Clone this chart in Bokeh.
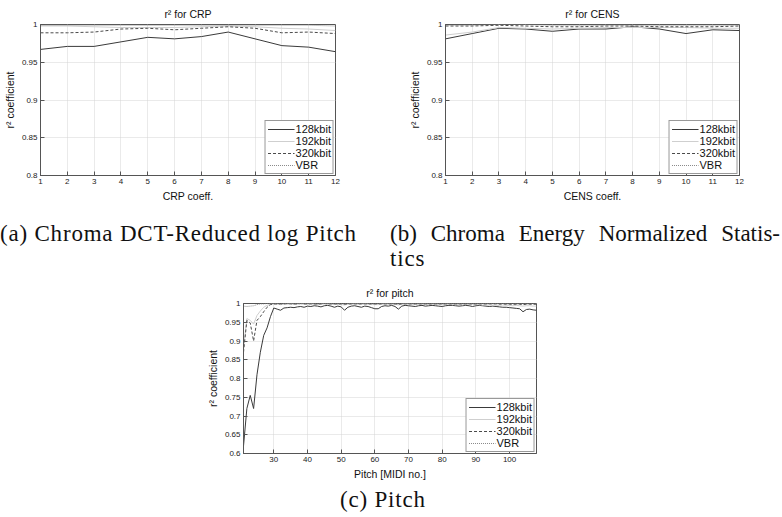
from bokeh.plotting import figure
from bokeh.layouts import column, row
from bokeh.models import (Div, Spacer, FixedTicker, CustomJSTickFormatter,
                          Legend, LegendItem, Range1d)
from bokeh.embed import file_html
from bokeh.resources import INLINE

# ---------------- data ----------------
coeff = [1, 2, 3, 4, 5, 6, 7, 8, 9, 10, 11, 12]

crp_128 = [0.967, 0.971, 0.971, 0.977, 0.983, 0.981, 0.984, 0.990, 0.981, 0.972, 0.970, 0.964]
crp_192 = [0.998, 0.998, 0.997, 0.996, 0.996, 0.996, 0.997, 0.998, 0.997, 0.995, 0.994, 0.992]
crp_320 = [0.989, 0.989, 0.990, 0.994, 0.995, 0.993, 0.995, 0.997, 0.995, 0.989, 0.990, 0.988]
crp_vbr = [0.999, 0.999, 0.999, 0.999, 0.999, 0.999, 0.999, 0.999, 0.999, 0.999, 0.999, 0.998]

cens_128 = [0.981, 0.988, 0.995, 0.994, 0.991, 0.994, 0.994, 0.997, 0.994, 0.988, 0.993, 0.992]
cens_192 = [0.986, 0.990, 0.996, 0.995, 0.994, 0.995, 0.996, 0.996, 0.996, 0.996, 0.995, 0.995]
cens_320 = [0.998, 0.998, 0.999, 0.998, 0.997, 0.997, 0.998, 0.998, 0.997, 0.997, 0.997, 0.998]
cens_vbr = [0.999, 0.999, 1.000, 1.000, 0.999, 0.999, 0.999, 0.999, 0.999, 0.999, 0.999, 0.999]

pitch = list(range(21, 109))

pitch_128 = [0.620, 0.720, 0.755, 0.720, 0.810, 0.870, 0.915, 0.935, 0.965, 0.988,
             0.985, 0.982, 0.988, 0.989, 0.990, 0.989, 0.991, 0.992, 0.990, 0.993,
             0.992, 0.994, 0.993, 0.991, 0.994, 0.995, 0.993, 0.990, 0.993, 0.991,
             0.982, 0.990, 0.993, 0.994, 0.992, 0.990, 0.993, 0.992, 0.989, 0.986,
             0.986, 0.992, 0.994, 0.993, 0.995, 0.992, 0.985, 0.993, 0.995, 0.994,
             0.993, 0.992, 0.994, 0.995, 0.993, 0.994, 0.995, 0.994, 0.993, 0.992,
             0.994, 0.995, 0.995, 0.994, 0.993, 0.994, 0.995, 0.994, 0.992, 0.994,
             0.995, 0.994, 0.993, 0.992, 0.993, 0.992, 0.991, 0.990, 0.990, 0.989,
             0.988, 0.987, 0.986, 0.978, 0.984, 0.985, 0.983, 0.982]
pitch_192 = [0.880, 0.960, 0.955, 0.945, 0.968, 0.980, 0.990, 0.995, 0.998, 0.998,
             0.998, 0.997, 0.998, 0.998, 0.999, 0.998, 0.998, 0.999, 0.998, 0.998,
             0.999, 0.998, 0.997, 0.998, 0.999, 0.998, 0.998, 0.997, 0.998, 0.997,
             0.996, 0.998, 0.998, 0.999, 0.998, 0.998, 0.999, 0.998, 0.997, 0.997,
             0.997, 0.998, 0.999, 0.998, 0.998, 0.998, 0.996, 0.998, 0.999, 0.998,
             0.998, 0.997, 0.998, 0.998, 0.998, 0.997, 0.998, 0.998, 0.997, 0.997,
             0.998, 0.998, 0.997, 0.997, 0.998, 0.997, 0.997, 0.998, 0.997, 0.997,
             0.997, 0.996, 0.997, 0.996, 0.996, 0.995, 0.995, 0.996, 0.995, 0.995,
             0.994, 0.995, 0.994, 0.993, 0.994, 0.994, 0.993, 0.993]
pitch_320 = [0.870, 0.955, 0.948, 0.900, 0.955, 0.965, 0.978, 0.990, 0.997, 0.999,
             0.999, 0.999, 0.999, 1.000, 0.999, 0.999, 0.999, 1.000, 0.999, 0.999,
             0.999, 0.999, 0.999, 0.999, 1.000, 0.999, 0.999, 0.999, 0.999, 0.999,
             0.998, 0.999, 0.999, 0.999, 0.999, 0.999, 0.999, 0.999, 0.999, 0.999,
             0.999, 0.999, 0.999, 0.999, 0.999, 0.999, 0.998, 0.999, 0.999, 0.999,
             0.999, 0.999, 0.999, 0.999, 0.999, 0.999, 0.999, 0.999, 0.999, 0.999,
             0.999, 0.999, 0.999, 0.999, 0.999, 0.999, 0.999, 0.999, 0.999, 0.999,
             0.999, 0.999, 0.999, 0.999, 0.999, 0.999, 0.998, 0.999, 0.998, 0.998,
             0.998, 0.998, 0.998, 0.997, 0.998, 0.998, 0.998, 0.998]
pitch_vbr = [0.993, 0.992, 0.993, 0.994, 0.997, 0.999, 0.999, 1.000, 1.000, 1.000,
             1.000, 0.999, 1.000, 1.000, 1.000, 0.999, 1.000, 1.000, 1.000, 1.000,
             1.000, 1.000, 0.999, 1.000, 1.000, 1.000, 1.000, 1.000, 0.999, 1.000,
             0.999, 1.000, 1.000, 1.000, 1.000, 1.000, 1.000, 1.000, 1.000, 0.999,
             1.000, 1.000, 1.000, 1.000, 1.000, 1.000, 0.999, 1.000, 1.000, 1.000,
             1.000, 1.000, 1.000, 1.000, 1.000, 1.000, 1.000, 1.000, 1.000, 1.000,
             1.000, 1.000, 1.000, 1.000, 1.000, 1.000, 1.000, 1.000, 1.000, 1.000,
             1.000, 1.000, 1.000, 1.000, 1.000, 1.000, 0.999, 1.000, 0.999, 0.999,
             0.999, 0.999, 0.999, 0.999, 0.999, 0.999, 0.999, 0.999]

series_names = ["128kbit", "192kbit", "320kbit", "VBR"]
crp_ticks_y = [0.8, 0.85, 0.9, 0.95, 1.0]
pitch_ticks_y = [0.6, 0.65, 0.7, 0.75, 0.8, 0.85, 0.9, 0.95, 1.0]
pitch_ticks_x = [30, 40, 50, 60, 70, 80, 90, 100]

# ---------------- styling ----------------
SANS = "Liberation Sans"
SERIF = "'Liberation Serif', 'Times New Roman', serif"
STYLES = [
    dict(line_color="#3a3a3a", line_width=1, line_dash="solid"),
    dict(line_color="#cfcfcf", line_width=1, line_dash="solid"),
    dict(line_color="#4a4a4a", line_width=1, line_dash="3 2"),
    dict(line_color="#8a8a8a", line_width=1, line_dash="1 1"),
]
fmt = CustomJSTickFormatter(code="return String(parseFloat(tick.toFixed(2)));")


def make_fig(width, height, xr, yr, xt, yt, bl, br, bt, bb, title, xlabel, xs, ys_list):
    p = figure(width=width, height=height, x_range=Range1d(*xr), y_range=Range1d(*yr),
               output_backend="svg", toolbar_location=None,
               min_border_left=bl, min_border_right=br, min_border_top=bt,
               min_border_bottom=bb)
    p.title.text = title
    p.title.align = "center"
    p.title.vertical_align = "middle"
    p.title.text_font = SANS
    p.title.text_font_size = "10.5px"
    p.title.text_font_style = "normal"
    p.title.text_color = "#111111"
    p.title.standoff = 8
    p.title.offset = 0
    p.outline_line_color = "#555555"
    p.outline_line_width = 1
    p.background_fill_color = "white"
    p.border_fill_color = "white"
    for ax in (p.xaxis[0], p.yaxis[0]):
        ax.major_tick_in = 4
        ax.major_tick_out = 0
        ax.minor_tick_in = 0
        ax.minor_tick_out = 0
        ax.major_tick_line_color = "#555555"
        ax.axis_line_color = "#555555"
        ax.major_label_text_font = SANS
        ax.major_label_text_font_size = "8px"
        ax.major_label_text_color = "#222222"
        ax.axis_label_text_font = SANS
        ax.axis_label_text_font_size = "10.5px"
        ax.axis_label_text_font_style = "normal"
        ax.axis_label_text_color = "#111111"
        ax.formatter = fmt
        ax.major_label_standoff = 3
        ax.axis_label_standoff = 3
    p.xaxis.ticker = FixedTicker(ticks=xt)
    p.yaxis.ticker = FixedTicker(ticks=yt)
    p.xaxis.axis_label = xlabel
    p.yaxis.axis_label = "r² coefficient"
    p.xgrid.ticker = FixedTicker(ticks=xt)
    p.ygrid.ticker = FixedTicker(ticks=yt)
    for g in (p.xgrid, p.ygrid):
        g.grid_line_color = "#d4d4d4"
        g.grid_line_width = 1
        g.grid_line_dash = "1 1"
    items = []
    for name, ys, st in zip(series_names, ys_list, STYLES):
        r = p.line(xs, ys, **st)
        items.append(LegendItem(label=name, renderers=[r]))
    leg = Legend(items=items, location="bottom_right")
    leg.margin = 1
    leg.padding = 2
    leg.spacing = 0
    leg.glyph_width = 27
    leg.glyph_height = 12
    leg.label_height = 12
    leg.label_standoff = 1
    leg.label_text_font = SANS
    leg.label_text_font_size = "11px"
    leg.label_text_color = "#111111"
    leg.border_line_color = "#333333"
    leg.border_line_width = 1
    leg.background_fill_color = "white"
    leg.background_fill_alpha = 1
    p.add_layout(leg)
    return p


pa = make_fig(390, 205, (1, 12), (0.8, 1.0), coeff, crp_ticks_y, 40, 55, 24, 30,
              "r² for CRP", "CRP coeff.", coeff, [crp_128, crp_192, crp_320, crp_vbr])
pb = make_fig(392, 205, (1, 12), (0.8, 1.0), coeff, crp_ticks_y, 55, 43, 24, 30,
              "r² for CENS", "CENS coeff.", coeff, [cens_128, cens_192, cens_320, cens_vbr])
pc = make_fig(390, 212, (21, 108), (0.6, 1.0), pitch_ticks_x, pitch_ticks_y, 43, 54, 33, 27,
              "r² for pitch", "Pitch [MIDI no.]", pitch, [pitch_128, pitch_192, pitch_320, pitch_vbr])

base = (f"font-family:{SERIF}; font-size:23px; line-height:28px; "
        "color:#111; white-space:nowrap;")
cap_a = Div(text=f'<div style="{base} margin:0; letter-spacing:0.8px; padding-top:15px;">(a) Chroma DCT-Reduced log Pitch</div>',
            width=390, height=65, margin=0)
cap_b = Div(text=(f'<div style="{base} margin:0; letter-spacing:0px; padding-top:15px; width:390px; text-align:justify; '
                  'text-align-last:justify;">(b) Chroma Energy Normalized Statis-</div>'
                  f'<div style="{base} margin:-3px 0 0 0; letter-spacing:0.8px;">tics</div>'),
            width=392, height=65, margin=0)
cap_c = Div(text=f'<div style="{base} margin:0; letter-spacing:0.8px; padding-top:4px; padding-left:340px;">(c) Pitch</div>',
            width=782, height=35, margin=0)

layout = column(
    row(pa, pb),
    row(cap_a, cap_b),
    row(Spacer(width=200, height=212), pc),
    cap_c,
)

open("out.html", "w").write(file_html(layout, INLINE))
